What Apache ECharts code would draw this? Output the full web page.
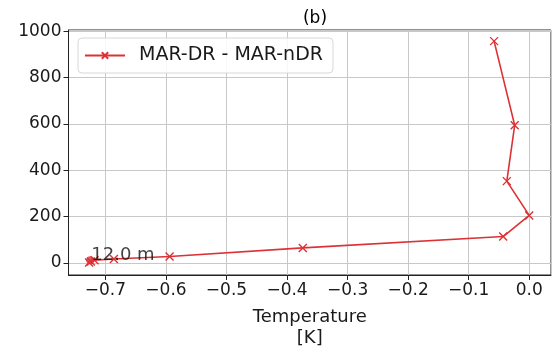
<!DOCTYPE html>
<html>
<head>
<meta charset="utf-8">
<script src="https://cdn.jsdelivr.net/npm/echarts@6/dist/echarts.min.js"></script>
<style>
  html, body { margin: 0; padding: 0; background: #fff; }
  #chart { width: 554px; height: 356px; }
</style>
</head>
<body>
<div id="chart"></div>
<script>
// Temperature difference profile (MAR-DR minus MAR-nDR) against height
const tempDiff = [-0.058, -0.024, -0.037, 0.0, -0.043, -0.374, -0.594, -0.686, -0.718, -0.724, -0.727];
const heights  = [957, 594, 353, 205, 114, 65, 28, 17, 12, 6, 2];
const seriesName = 'MAR-DR - MAR-nDR';
const panelTitle = '(b)';
const xName = 'Temperature\n[K]';

// annotated level
const markHeight = 12.0;
const markTemp = -0.725;

const RED = '#dc3236';
const FONT = 'DejaVu Sans';
const crossPath = 'path://M0,0L10,10M10,0L0,10';

const fmtNum = (v, d) => {
  const s = Math.abs(v).toFixed(d);
  return (v < -1e-9 ? '\u2212' : '') + s;
};

const chart = echarts.init(document.getElementById('chart'), null, { renderer: 'canvas' });

chart.setOption({
  animation: false,
  backgroundColor: '#fff',
  textStyle: { fontFamily: FONT },
  title: {
    text: panelTitle,
    left: 310, top: 5, textAlign: 'center',
    textStyle: { fontFamily: FONT, fontSize: 17, fontWeight: 'normal', color: '#000' }
  },
  grid: { left: 68.5, right: 3, top: 30, bottom: 81, show: true, borderColor: '#222', borderWidth: 1 },
  legend: {
    left: 78, top: 38,
    padding: [8, 10, 8, 6],
    backgroundColor: 'rgba(255,255,255,0.85)',
    borderColor: '#d8d8d8', borderWidth: 1, borderRadius: 4,
    itemWidth: 40, itemHeight: 8,
    textStyle: { fontFamily: FONT, fontSize: 19, color: '#1a1a1a', padding: [0, 0, 0, 9] },
    data: [{ name: seriesName }]
  },
  xAxis: {
    type: 'value',
    min: -0.761, max: 0.036,
    splitNumber: 8,
    name: xName,
    nameLocation: 'middle',
    nameGap: 32,
    nameTextStyle: { fontFamily: FONT, fontSize: 18, color: '#1a1a1a', lineHeight: 21 },
    axisLine: { show: true, onZero: false, lineStyle: { color: '#222', width: 1 } },
    axisTick: { show: true, length: 5, lineStyle: { color: '#222' } },
    axisLabel: {
      fontFamily: FONT, fontSize: 17, color: '#1a1a1a', margin: 7,
      showMinLabel: false, showMaxLabel: false,
      formatter: v => fmtNum(v, 1)
    },
    splitLine: { show: true, lineStyle: { color: '#c8c8c8', width: 1 } }
  },
  yAxis: {
    type: 'value',
    min: -52, max: 1005,
    splitNumber: 5,
    axisLine: { show: true, onZero: false, lineStyle: { color: '#222', width: 1 } },
    axisTick: { show: true, length: 5, lineStyle: { color: '#222' } },
    axisLabel: {
      fontFamily: FONT, fontSize: 17, color: '#1a1a1a', margin: 7,
      showMinLabel: false, showMaxLabel: false,
      formatter: v => String(Math.round(v))
    },
    splitLine: { show: true, lineStyle: { color: '#c8c8c8', width: 1 } }
  },
  series: [
    {
      name: seriesName,
      type: 'line',
      data: tempDiff.map((t, i) => [t, heights[i]]),
      symbol: crossPath,
      symbolSize: 8,
      lineStyle: { color: RED, width: 1.6 },
      itemStyle: { color: RED, borderColor: RED, borderWidth: 1.4 },
      z: 3
    },
    {
      name: 'level',
      type: 'scatter',
      data: [[markTemp, markHeight]],
      symbol: 'circle',
      symbolSize: 8,
      itemStyle: { color: RED },
      label: {
        show: true,
        formatter: p => p.value[1].toFixed(1) + ' m',
        position: [5, 8],
        align: 'left',
        verticalAlign: 'bottom',
        fontFamily: FONT, fontSize: 18, color: '#111'
      },
      z: 4
    }
  ]
});
</script>
</body>
</html>
